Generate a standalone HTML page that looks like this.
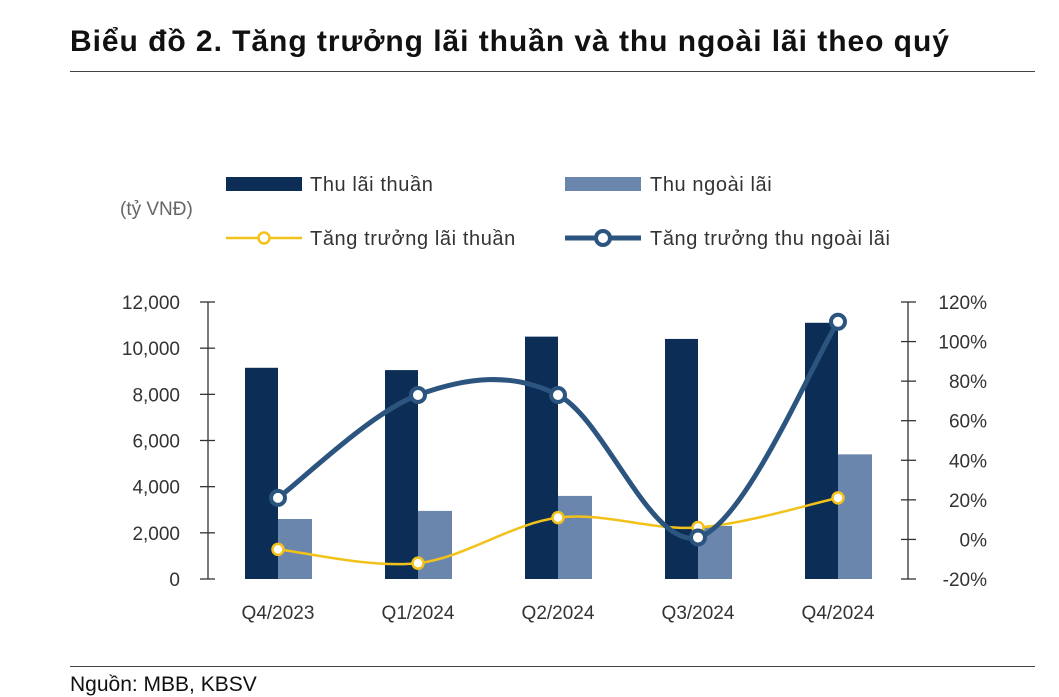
<!DOCTYPE html>
<html><head><meta charset="utf-8"><style>
body{margin:0;background:#fff;width:1059px;height:697px;overflow:hidden;position:relative;font-family:"Liberation Sans",sans-serif}
.t{position:absolute;white-space:nowrap}
</style></head><body>
<div class="t" style="left:70px;top:25px;font-size:30px;letter-spacing:0.95px;font-weight:bold;color:#111">Biểu đồ 2. Tăng trưởng lãi thuần và thu ngoài lãi theo quý</div>
<div style="position:absolute;left:70px;top:71px;width:965px;height:1px;background:#444"></div>
<div style="position:absolute;left:70px;top:666px;width:965px;height:1px;background:#444"></div>
<div class="t" style="left:70px;top:673px;font-size:21px;color:#111">Nguồn: MBB, KBSV</div>
<svg id="c" width="1059" height="697" style="position:absolute;left:0;top:0"></svg>
<script>
const categories=["Q4/2023","Q1/2024","Q2/2024","Q3/2024","Q4/2024"];
const netInterest=[9150,9050,10500,10400,11100];
const nonInterest=[2600,2950,3600,2300,5400];
const netGrowth=[-5,-12,11,6,21];
const nonGrowth=[21,73,73,1,110];
const leftTicks=[0,2000,4000,6000,8000,10000,12000];
const rightTicks=[-20,0,20,40,60,80,100,120];
const NS="http://www.w3.org/2000/svg",svg=document.getElementById('c');
const x0=208,x1=908,yB=579,yT=302;
const yL=v=>yB-(v/12000)*(yB-yT);
const yR=v=>yB-((v+20)/140)*(yB-yT);
const xC=i=>x0+(i+0.5)*(x1-x0)/categories.length;
function el(t,a,txt){const e=document.createElementNS(NS,t);for(const k in a)e.setAttribute(k,a[k]);if(txt!=null)e.textContent=txt;svg.appendChild(e);return e;}
let e;
e=el('line',{x1:x0,y1:yT,x2:x0,y2:yB,stroke:'#333','stroke-width':1.3});

e=el('line',{x1:x1,y1:yT,x2:x1,y2:yB,stroke:'#333','stroke-width':1.3});

leftTicks.forEach(v=>{
 e=el('line',{x1:x0-8,x2:x0+7,y1:yL(v),y2:yL(v),stroke:'#333','stroke-width':1.3});
 
 e=el('text',{x:180,y:yL(v)+7,'text-anchor':'end','font-size':19,fill:'#333'},v.toLocaleString('en-US'));
 
});
rightTicks.forEach(v=>{
 e=el('line',{x1:x1-7,x2:x1+8,y1:yR(v),y2:yR(v),stroke:'#333','stroke-width':1.3});
 
 e=el('text',{x:987,y:yR(v)+7,'text-anchor':'end','font-size':19,fill:'#333'},v+'%');
 
});
categories.forEach((c,i)=>{
 e=el('rect',{x:xC(i)-33,y:yL(netInterest[i]),width:33,height:yB-yL(netInterest[i]),fill:'#0b2d56'});
 
 e=el('rect',{x:xC(i),y:yL(nonInterest[i]),width:34,height:yB-yL(nonInterest[i]),fill:'#6b86ad'});
 
 e=el('text',{x:xC(i),y:619,'text-anchor':'middle','font-size':19,fill:'#333'},c);
 
});
function smooth(pts){let d='M'+pts[0][0]+','+pts[0][1];
 for(let i=0;i<pts.length-1;i++){const p0=pts[Math.max(i-1,0)],p1=pts[i],p2=pts[i+1],p3=pts[Math.min(i+2,pts.length-1)];
  const t=1/6;d+=' C'+(p1[0]+(p2[0]-p0[0])*t)+','+(p1[1]+(p2[1]-p0[1])*t)+' '+(p2[0]-(p3[0]-p1[0])*t)+','+(p2[1]-(p3[1]-p1[1])*t)+' '+p2[0]+','+p2[1];}
 return d;}
function series(vals,color,w,r,sw,name){
 const pts=vals.map((v,i)=>[xC(i),yR(v)]);
 e=el('path',{d:smooth(pts),fill:'none',stroke:color,'stroke-width':w});
 
 pts.forEach(p=>{e=el('circle',{cx:p[0],cy:p[1],r:r,fill:'#fff',stroke:color,'stroke-width':sw});
 });
}
series(netGrowth,'#f2c21b',2.5,5.5,2.5,'net-growth');
series(nonGrowth,'#2b557f',5,7,4,'non-interest-growth');
e=el('text',{x:120,y:215,'font-size':19,fill:'#666'},'(tỷ VNĐ)');

e=el('rect',{x:226,y:177,width:76,height:14,fill:'#0b2d56'});

e=el('text',{x:310,y:191,'font-size':20,'letter-spacing':0.6,fill:'#333'},'Thu lãi thuần');

e=el('rect',{x:565,y:177,width:76,height:14,fill:'#6b86ad'});

e=el('text',{x:650,y:191,'font-size':20,'letter-spacing':0.6,fill:'#333'},'Thu ngoài lãi');

e=el('line',{x1:226,x2:302,y1:238,y2:238,stroke:'#f2c21b','stroke-width':2.5});

e=el('circle',{cx:264,cy:238,r:5.5,fill:'#fff',stroke:'#f2c21b','stroke-width':2.5});

e=el('text',{x:310,y:245,'font-size':20,'letter-spacing':0.6,fill:'#333'},'Tăng trưởng lãi thuần');

e=el('line',{x1:565,x2:641,y1:238,y2:238,stroke:'#2b557f','stroke-width':5});

e=el('circle',{cx:603,cy:238,r:7,fill:'#fff',stroke:'#2b557f','stroke-width':4});

e=el('text',{x:650,y:245,'font-size':20,'letter-spacing':0.6,fill:'#333'},'Tăng trưởng thu ngoài lãi');

</script>
</body></html>
